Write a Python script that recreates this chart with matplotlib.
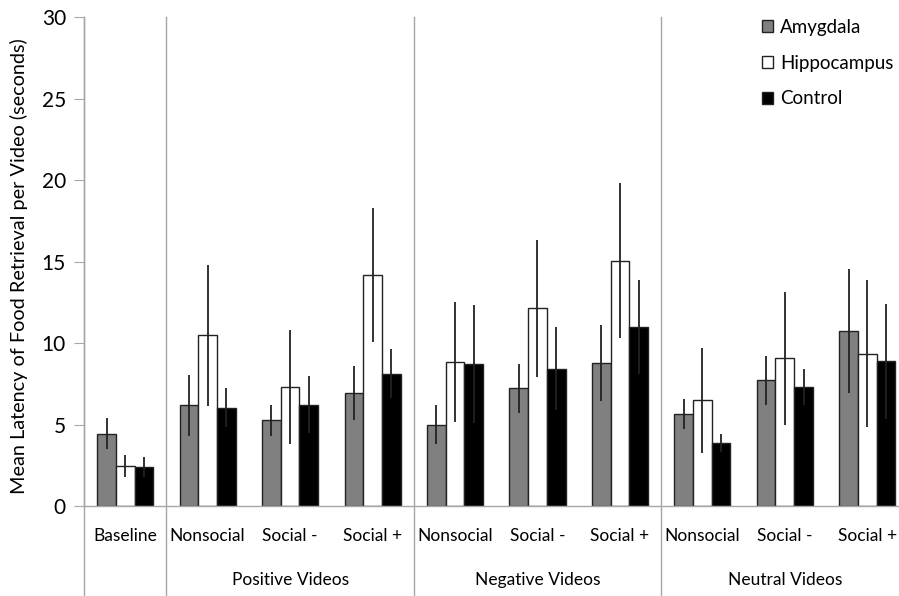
import matplotlib
matplotlib.use('Agg')
import matplotlib.pyplot as plt
import numpy as np
from matplotlib.patches import Patch

plt.rcParams['font.family'] = ['Lato', 'DejaVu Sans']

categories = ['Baseline', 'Nonsocial', 'Social -', 'Social +',
              'Nonsocial', 'Social -', 'Social +',
              'Nonsocial', 'Social -', 'Social +']
groups = ['Positive Videos', 'Negative Videos', 'Neutral Videos']

amygdala = [4.43, 6.17, 5.27, 6.93, 5.00, 7.23, 8.77, 5.65, 7.73, 10.73]
amygdala_err = [0.95, 1.87, 0.95, 1.67, 1.17, 1.50, 2.33, 0.94, 1.50, 3.80]
hippocampus = [2.46, 10.47, 7.31, 14.18, 8.83, 12.13, 15.06, 6.48, 9.07, 9.36]
hippocampus_err = [0.65, 4.33, 3.50, 4.10, 3.67, 4.22, 4.77, 3.20, 4.08, 4.54]
control = [2.40, 6.04, 6.23, 8.13, 8.71, 8.44, 11.00, 3.87, 7.31, 8.89]
control_err = [0.60, 1.19, 1.76, 1.50, 3.60, 2.52, 2.89, 0.55, 1.11, 3.53]

fig = plt.figure(figsize=(8.99, 5.96), dpi=100)
ax = fig.add_axes([84/899., 1-506/596., 824.5/899., 488.7/596.])

x = np.arange(len(categories))
w = 0.227
grey = '#a6a6a6'
series = [(amygdala, amygdala_err, '#808080', 'Amygdala'),
          (hippocampus, hippocampus_err, 'white', 'Hippocampus'),
          (control, control_err, 'black', 'Control')]
for i, (vals, errs, col, lab) in enumerate(series):
    pos = x + (i-1)*w
    ax.bar(pos, vals, w, color=col, edgecolor='#222222', linewidth=1.0, zorder=2)
    ax.errorbar(pos, vals, yerr=errs, fmt='none', ecolor='#222222',
                elinewidth=1.3, capsize=0, zorder=3)

ax.set_xlim(-0.5, 9.5)
ax.set_ylim(0, 30)
ax.set_yticks(range(0, 31, 5))
ax.set_xticks([])
for s in ['top', 'right']:
    ax.spines[s].set_visible(False)
for s in ['left', 'bottom']:
    ax.spines[s].set_color(grey)
    ax.spines[s].set_linewidth(1.0)
ax.tick_params(axis='y', length=7, color=grey, labelsize=15, pad=6)
ax.set_ylabel('Mean Latency of Food Retrieval per Video (seconds)', fontsize=14.3)
ax.yaxis.set_label_coords(-0.068, 0.49)

trans = ax.get_xaxis_transform()
# left axis and separators run down through the label area
for xs in [-0.5, 0.5, 3.5, 6.5]:
    ax.plot([xs, xs], [-0.19, 1.0], transform=trans, color=grey, lw=1.0, clip_on=False, zorder=1)

for xi, lab in zip(x, categories):
    ax.text(xi, -0.061, lab, transform=trans, ha='center', va='center', fontsize=12.5)
for gi, g in enumerate(groups):
    ax.text(2 + 3*gi, -0.151, g, transform=trans, ha='center', va='center', fontsize=12.5)

handles = [Patch(facecolor=c, edgecolor='#222222', label=l) for _, _, c, l in series]
ax.legend(handles=handles, loc='upper left', bbox_to_anchor=(762/899., 1-19/596.),
          bbox_transform=fig.transFigure, frameon=False, fontsize=13.5,
          borderpad=0, borderaxespad=0,
          handlelength=0.6, handleheight=0.6, handletextpad=0.35, labelspacing=1.0)

fig.savefig('out.png', dpi=100)
